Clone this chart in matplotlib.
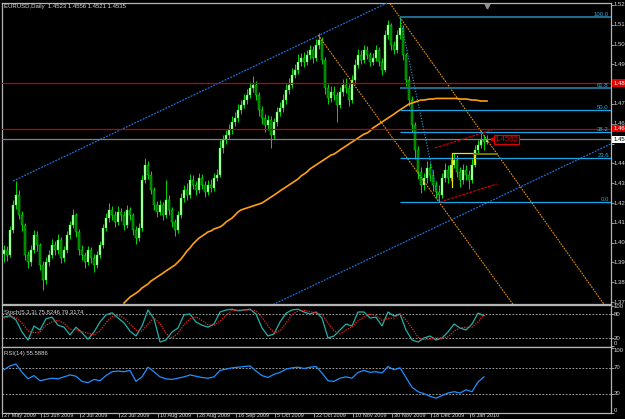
import matplotlib.pyplot as plt
import numpy as np

plt.rcParams['font.family'] = ['Liberation Sans', 'DejaVu Sans']

W, H = 625, 419

# daily candles
first_open = 1.3940
closes = [1.3963, 1.3937, 1.4064, 1.4190, 1.4240, 1.4139, 1.4089, 1.3937, 1.3902, 1.3963,
          1.4038, 1.3988, 1.3887, 1.3811, 1.3902, 1.3937, 1.3988, 1.3963, 1.4013, 1.3922,
          1.3963, 1.4038, 1.4089, 1.4139, 1.4054, 1.3963, 1.3937, 1.3902, 1.3963, 1.3922,
          1.3887, 1.3937, 1.3988, 1.4074, 1.4124, 1.4165, 1.4139, 1.4104, 1.4155, 1.4139,
          1.4089, 1.4165, 1.4139, 1.4064, 1.4023, 1.4074, 1.4316, 1.4392, 1.4341, 1.4266,
          1.4190, 1.4155, 1.4190, 1.4139, 1.4215, 1.4165, 1.4104, 1.4064, 1.4139, 1.4225,
          1.4266, 1.4240, 1.4316, 1.4291, 1.4266, 1.4326, 1.4291, 1.4256, 1.4291, 1.4276,
          1.4326, 1.4341, 1.4478, 1.4518, 1.4543, 1.4569, 1.4609, 1.4629, 1.4670, 1.4695,
          1.4720, 1.4745, 1.4781, 1.4796, 1.4745, 1.4670, 1.4629, 1.4594, 1.4619, 1.4543,
          1.4609, 1.4660, 1.4680, 1.4720, 1.4771, 1.4796, 1.4846, 1.4872, 1.4912, 1.4932,
          1.4912, 1.4947, 1.4973, 1.4932, 1.4998, 1.5023, 1.4922, 1.4781, 1.4730, 1.4761,
          1.4745, 1.4695, 1.4761, 1.4796, 1.4781, 1.4720, 1.4821, 1.4897, 1.4947, 1.4922,
          1.4973, 1.4947, 1.4912, 1.4932, 1.4973, 1.4912, 1.4872, 1.5048, 1.5099, 1.4998,
          1.4973, 1.5048, 1.5084, 1.4947, 1.4821, 1.4720, 1.4594, 1.4468, 1.4357, 1.4291,
          1.4326, 1.4377, 1.4341, 1.4291, 1.4256, 1.4240, 1.4326, 1.4367, 1.4326, 1.4392,
          1.4417, 1.4357, 1.4316, 1.4367, 1.4341, 1.4316, 1.4392, 1.4468, 1.4493, 1.4518,
          1.4510, 1.4522]
highs = [1.3990, 1.3985, 1.4085, 1.4215, 1.4311, 1.4265, 1.4160, 1.4100, 1.3960, 1.3990,
         1.4065, 1.4060, 1.4000, 1.3905, 1.3925, 1.3965, 1.4020, 1.4010, 1.4045, 1.4030,
         1.3985, 1.4060, 1.4110, 1.4170, 1.4150, 1.4070, 1.3990, 1.3955, 1.3985, 1.3980,
         1.3940, 1.3960, 1.4010, 1.4095, 1.4150, 1.4200, 1.4185, 1.4160, 1.4185, 1.4175,
         1.4160, 1.4190, 1.4180, 1.4150, 1.4085, 1.4100, 1.4340, 1.4427, 1.4410, 1.4360,
         1.4280, 1.4210, 1.4215, 1.4205, 1.4316, 1.4240, 1.4180, 1.4120, 1.4160, 1.4250,
         1.4290, 1.4300, 1.4345, 1.4340, 1.4310, 1.4350, 1.4345, 1.4310, 1.4315, 1.4320,
         1.4350, 1.4370, 1.4520, 1.4545, 1.4570, 1.4600, 1.4640, 1.4660, 1.4700, 1.4720,
         1.4750, 1.4775, 1.4810, 1.4840, 1.4815, 1.4760, 1.4690, 1.4650, 1.4645, 1.4640,
         1.4630, 1.4685, 1.4710, 1.4750, 1.4800, 1.4830, 1.4880, 1.4900, 1.4950, 1.4960,
         1.4965, 1.4975, 1.5000, 1.4995, 1.5030, 1.5060, 1.5040, 1.4935, 1.4800, 1.4790,
         1.4790, 1.4760, 1.4785, 1.4825, 1.4830, 1.4800, 1.4845, 1.4925, 1.4980, 1.4975,
         1.5000, 1.4995, 1.4965, 1.4960, 1.5000, 1.4990, 1.4930, 1.5075, 1.5124, 1.5110,
         1.5020, 1.5075, 1.5137, 1.5100, 1.4960, 1.4840, 1.4740, 1.4610, 1.4490, 1.4380,
         1.4350, 1.4410, 1.4400, 1.4365, 1.4310, 1.4290, 1.4350, 1.4400, 1.4390, 1.4420,
         1.4450, 1.4440, 1.4380, 1.4395, 1.4390, 1.4365, 1.4420, 1.4495, 1.4520, 1.4569,
         1.4545, 1.4543]
lows = [1.3900, 1.3905, 1.3925, 1.4050, 1.4170, 1.4120, 1.4060, 1.3910, 1.3870, 1.3880,
        1.3950, 1.3960, 1.3860, 1.3761, 1.3790, 1.3880, 1.3920, 1.3935, 1.3945, 1.3895,
        1.3900, 1.3950, 1.4020, 1.4075, 1.4030, 1.3935, 1.3910, 1.3870, 1.3885, 1.3895,
        1.3850, 1.3870, 1.3920, 1.3975, 1.4060, 1.4105, 1.4115, 1.4080, 1.4090, 1.4110,
        1.4065, 1.4075, 1.4115, 1.4040, 1.3995, 1.4010, 1.4060, 1.4300, 1.4320, 1.4245,
        1.4165, 1.4130, 1.4140, 1.4115, 1.4125, 1.4140, 1.4080, 1.4035, 1.4050, 1.4125,
        1.4205, 1.4215, 1.4225, 1.4270, 1.4240, 1.4250, 1.4270, 1.4230, 1.4240, 1.4255,
        1.4260, 1.4310, 1.4330, 1.4455, 1.4500, 1.4525, 1.4550, 1.4590, 1.4610, 1.4650,
        1.4680, 1.4700, 1.4730, 1.4760, 1.4720, 1.4640, 1.4600, 1.4560, 1.4570, 1.4480,
        1.4525, 1.4590, 1.4640, 1.4660, 1.4700, 1.4750, 1.4780, 1.4830, 1.4850, 1.4890,
        1.4885, 1.4895, 1.4925, 1.4905, 1.4915, 1.4980, 1.4900, 1.4750, 1.4700, 1.4710,
        1.4720, 1.4610, 1.4680, 1.4740, 1.4755, 1.4690, 1.4705, 1.4800, 1.4880, 1.4900,
        1.4905, 1.4925, 1.4890, 1.4895, 1.4915, 1.4890, 1.4845, 1.4860, 1.5030, 1.4975,
        1.4950, 1.4960, 1.5030, 1.4920, 1.4790, 1.4690, 1.4560, 1.4420, 1.4320, 1.4250,
        1.4265, 1.4300, 1.4310, 1.4260, 1.4225, 1.4205, 1.4225, 1.4305, 1.4300, 1.4310,
        1.4375, 1.4330, 1.4280, 1.4295, 1.4315, 1.4270, 1.4300, 1.4380, 1.4450, 1.4480,
        1.4470, 1.4500]

# moving average (only the part inside the window, ends on the last bar)
ma_line = [1.3695, 1.3710, 1.3725, 1.3735, 1.3745, 1.3756, 1.3771, 1.3781, 1.3791, 1.3806,
           1.3816, 1.3826, 1.3836, 1.3846, 1.3857, 1.3867, 1.3877, 1.3887, 1.3902, 1.3917,
           1.3937, 1.3958, 1.3973, 1.3993, 1.4008, 1.4023, 1.4033, 1.4043, 1.4054, 1.4059,
           1.4069, 1.4074, 1.4079, 1.4089, 1.4104, 1.4114, 1.4124, 1.4139, 1.4155, 1.4165,
           1.4170, 1.4175, 1.4180, 1.4185, 1.4190, 1.4195, 1.4200, 1.4210, 1.4220, 1.4230,
           1.4240, 1.4250, 1.4261, 1.4271, 1.4281, 1.4291, 1.4301, 1.4311, 1.4321, 1.4336,
           1.4346, 1.4357, 1.4372, 1.4382, 1.4392, 1.4402, 1.4412, 1.4422, 1.4432, 1.4442,
           1.4447, 1.4457, 1.4468, 1.4478, 1.4488, 1.4498, 1.4508, 1.4518, 1.4528, 1.4538,
           1.4548, 1.4553, 1.4564, 1.4579, 1.4589, 1.4599, 1.4609, 1.4619, 1.4629, 1.4639,
           1.4649, 1.4660, 1.4670, 1.4680, 1.4690, 1.4700, 1.4705, 1.4710, 1.4715, 1.4720,
           1.4720, 1.4723, 1.4725, 1.4725, 1.4728, 1.4728, 1.4728, 1.4728, 1.4728, 1.4728,
           1.4728, 1.4728, 1.4725, 1.4725, 1.4725, 1.4723, 1.4720, 1.4720, 1.4718, 1.4715,
           1.4715, 1.4715]

# oscillators, one reading every second bar
stoch_k = [72, 76, 65, 35, 15, 50, 40, 68, 72, 52, 47, 28, 47, 33, 17, 35, 60, 78, 83, 70,
           58, 37, 25, 50, 90, 68, 10, 15, 35, 45, 78, 80, 60, 52, 47, 55, 85, 90, 92, 88,
           90, 92, 80, 45, 25, 30, 60, 82, 90, 92, 85, 80, 85, 70, 20, 25, 40, 55, 50, 85,
           85, 70, 72, 50, 85, 75, 80, 40, 15, 10, 20, 25, 15, 20, 35, 55, 45, 40, 55, 82, 76]
stoch_d = [70, 73, 71, 58, 38, 33, 35, 52, 60, 64, 57, 42, 40, 36, 32, 28, 38, 58, 74, 77,
           70, 55, 40, 37, 55, 70, 56, 31, 20, 32, 53, 68, 73, 64, 53, 51, 62, 77, 89, 90,
           90, 90, 87, 72, 50, 33, 38, 57, 78, 88, 89, 86, 83, 79, 58, 38, 30, 40, 48, 63,
           73, 80, 76, 64, 69, 70, 80, 65, 45, 22, 15, 18, 20, 20, 23, 37, 45, 47, 47, 60, 79]
rsi14 = [67, 73, 76, 63, 53, 58, 50, 52, 54, 53, 56, 59, 57, 49, 47, 52, 50, 58, 64, 65,
         64, 66, 49, 56, 71, 64, 56, 53, 52, 54, 56, 59, 57, 55, 54, 56, 66, 68, 70, 71,
         72, 73, 65, 58, 55, 60, 63, 68, 70, 71, 69, 71, 72, 62, 50, 49, 54, 56, 54, 63,
         66, 63, 64, 62, 72, 67, 70, 55, 40, 33, 30, 26, 23, 27, 31, 33, 31, 36, 33, 48, 56]

date_labels = ['27 May 2009', '15 Jun 2009', '2 Jul 2009', '22 Jul 2009', '10 Aug 2009',
               '28 Aug 2009', '16 Sep 2009', '5 Oct 2009', '22 Oct 2009', '10 Nov 2009',
               '30 Nov 2009', '18 Dec 2009', '6 Jan 2010']
date_bars = [0, 13, 26, 39, 52, 65, 78, 91, 104, 117, 130, 143, 156]
price_ticks = [1.37, 1.38, 1.39, 1.40, 1.41, 1.42, 1.43, 1.44, 1.46, 1.47, 1.49, 1.50, 1.51, 1.52]

fib_levels = [100.0, 61.8, 50.0, 38.2, 23.6, 0.0]
fib_high, fib_low = 1.5137, 1.4205
fib_bars = [132, 145]
red_levels = [1.4806, 1.4576]

# drawn objects: pairs of (bar, price) anchors
channel_upper = [(3, 1.4311), (60, 1.4722)]
channel_lower = [(156, 1.4165), (200, 1.4482)]
orange_a = [(104.7, 1.5048), (150, 1.4100)]
orange_b = [(132, 1.5137), (162, 1.4498)]
red_up = [(143.7, 1.4478), (162.7, 1.4569)]
red_dn = [(145.3, 1.4205), (164.3, 1.4296)]
yellow_box = [(149.3, 1.4281), (149.3, 1.4452), (156.7, 1.4452), (156.7, 1.4402)]
olive_seg = [(156.7, 1.4447), (164.3, 1.4447)]

GRID = '#b4b4b4'
TXT = '#d8d8d8'
FS = 4.3

fig = plt.figure(figsize=(W / 100, H / 100), dpi=100, facecolor='black')


def box(x0, y0, x1, y1):
    return [x0 / W, 1 - y1 / H, (x1 - x0) / W, (y1 - y0) / H]


ax = fig.add_axes(box(2, 3, 611, 304))
ax_s = fig.add_axes(box(2, 305, 611, 347))
ax_r = fig.add_axes(box(2, 347, 611, 413))

xlim = (-2 / 3, 607 / 3)
for a in (ax, ax_s, ax_r):
    a.set_facecolor('black')
    a.set_xlim(*xlim)
    for sp in a.spines.values():
        sp.set_color(GRID)
        sp.set_linewidth(0.9)
    a.tick_params(axis='y', left=False, right=True, labelleft=False, length=2,
                  color=GRID, width=0.6)
    a.set_xticks([])

ax.set_ylim(1.3690, 1.5210)
ax_s.set_ylim(-2.5, 102.5)
ax_r.set_ylim(0.77, 102.3)

n = len(closes)
bars = np.arange(n)
c = np.array(closes)
o = np.array([first_open] + closes[:-1])
hi = np.array(highs)
lo = np.array(lows)

# candles
ax.vlines(bars, lo, hi, color='#00ff00', lw=0.6, zorder=2)
up = c >= o
bot = np.minimum(o, c)
hgt = np.maximum(np.abs(c - o), 0.0002)
ax.bar(bars[up], hgt[up], bottom=bot[up], width=0.62, color='#c8ffc0',
       edgecolor='#00ff00', lw=0.3, zorder=3)
ax.bar(bars[~up], hgt[~up], bottom=bot[~up], width=0.62, color='#007000',
       edgecolor='#00ff00', lw=0.3, zorder=3)

# moving average
ax.plot(bars[-len(ma_line):], ma_line, color='#ffa010', lw=1.2, zorder=4)


def extend(pts, x0, x1):
    (ax0, ay0), (ax1, ay1) = pts
    k = (ay1 - ay0) / (ax1 - ax0)
    return [x0, x1], [ay0 + k * (x0 - ax0), ay0 + k * (x1 - ax0)]


dot = (0, (1.5, 1))
xs, ys = extend(channel_upper, channel_upper[0][0], 210)
ax.plot(xs, ys, color='#2070d8', lw=0.9, ls=dot, zorder=5)
xs, ys = extend(channel_lower, 3, 210)
ax.plot(xs, ys, color='#2070d8', lw=0.9, ls=dot, zorder=5)
xs, ys = extend(orange_a, orange_a[0][0], 210)
ax.plot(xs, ys, color='#e8900c', lw=0.8, ls=dot, zorder=5)
xs, ys = extend(orange_b, 120, 210)
ax.plot(xs, ys, color='#e8900c', lw=0.8, ls=dot, zorder=5)

# horizontal lines
for lv in red_levels:
    ax.axhline(lv, color='#c80000', lw=0.9, zorder=5)
ax.axhline(c[-1], color='#808080', lw=0.9, zorder=5)

# fibonacci
for lv in fib_levels:
    p = fib_low + (fib_high - fib_low) * lv / 100
    dark = lv in (100.0, 61.8)
    ax.hlines(p, fib_bars[0], xlim[1], color='#1c6e90' if dark else '#18a8e8',
              lw=1.4 if dark else 0.9, zorder=5)
    ax.text(201.6, p, '%.1f' % lv, color='#2ba8e0', fontsize=FS, ha='right',
            va='bottom', zorder=6)
ax.plot(fib_bars, [fib_high, fib_low], color='#18a8e8', lw=0.8, ls=(0, (1, 1.5)), zorder=5)

# small trend lines and box
for seg in (red_up, red_dn):
    ax.plot(*zip(*seg), color='#e00000', lw=0.8, ls=(0, (2.5, 1)), zorder=6)
ax.plot(*zip(*yellow_box), color='#e8e800', lw=0.9, zorder=6)
ax.plot(*zip(*olive_seg), color='#808000', lw=1.3, zorder=6)

# price tag on chart
ax.plot([162.8], [c[-1]], marker='o', ms=1.6, color='#e00000', zorder=7)
ax.text(163.6, c[-1], '%.4f' % 1.4532, color='#e00000', fontsize=5.6, va='center',
        ha='left', zorder=7,
        bbox=dict(facecolor='black', edgecolor='#e00000', lw=0.8, pad=0.6))

# shift marker
ax.plot([bars[-1]], [1.5195], marker='v', ms=3.5, color='#909090', zorder=7)

# price scale (only the part that fits in the window)
ax.set_yticks(price_ticks + [1.45, 1.48])
ytr = ax.get_yaxis_transform()
for p in price_ticks:
    ax.text(1.004, p, '%.2f' % p, transform=ytr, color=TXT, fontsize=FS,
            va='center', ha='left', clip_on=False)
for lv in red_levels:
    ax.text(1.004, lv, '%.2f' % lv, transform=ytr, color='white', fontsize=FS,
            va='center', ha='left', clip_on=False,
            bbox=dict(facecolor='#e00000', edgecolor='none', pad=0.8))
ax.text(1.004, c[-1], '%.2f' % c[-1], transform=ytr, color='black', fontsize=FS,
        va='center', ha='left', clip_on=False,
        bbox=dict(facecolor='white', edgecolor='none', pad=0.8))

fig.text(4 / W, 1 - 6.5 / H, 'EURUSD,Daily  1.4523 1.4556 1.4521 1.4535', color=TXT,
         fontsize=FS, va='center', ha='left')

# stochastic
osc_x = bars[::2]
lvl = dict(color='#c0c0c0', lw=0.6, ls=(0, (2, 2)))
ax_s.axhline(80, **lvl)
ax_s.axhline(20, **lvl)
ax_s.plot(osc_x, stoch_k, color='#20b2aa', lw=0.9)
ax_s.plot(osc_x, stoch_d, color='#ff2020', lw=0.9, ls=(0, (1, 1)))
ax_s.set_yticks([100, 80, 20, 0])
str_ = ax_s.get_yaxis_transform()
for v, va in ((100, 'center'), (80, 'center'), (20, 'center'), (0, 'bottom')):
    ax_s.text(1.004, v, str(v), transform=str_, color=TXT, fontsize=FS, va=va,
              ha='left', clip_on=False)
fig.text(4 / W, 1 - 312 / H, 'Stoch(5,3,3) 75.8246 79.3174', color=TXT, fontsize=FS,
         va='center', ha='left')

# rsi
ax_r.axhline(70, **lvl)
ax_r.axhline(30, **lvl)
ax_r.plot(osc_x, rsi14, color='#1e90ff', lw=0.9)
ax_r.set_yticks([100, 70, 30, 0])
rtr = ax_r.get_yaxis_transform()
for v, va in ((100, 'top'), (70, 'center'), (30, 'center'), (0, 'bottom')):
    ax_r.text(1.004, v, str(v), transform=rtr, color=TXT, fontsize=FS, va=va,
              ha='left', clip_on=False)
fig.text(4 / W, 1 - 353 / H, 'RSI(14) 55.5886', color=TXT, fontsize=FS,
         va='center', ha='left')

# time scale
ax_r.set_xticks([b - 0.6 for b in date_bars])
ax_r.tick_params(axis='x', bottom=True, direction='out', length=3, color=GRID,
                 width=0.6, labelbottom=False)
xtr = ax_r.get_xaxis_transform()
for b, lab in zip(date_bars, date_labels):
    ax_r.text(b, -0.005, lab, transform=xtr, color=TXT, fontsize=4.0, va='top',
              ha='left', clip_on=False)

fig.savefig('out.png', dpi=100, facecolor='black')
